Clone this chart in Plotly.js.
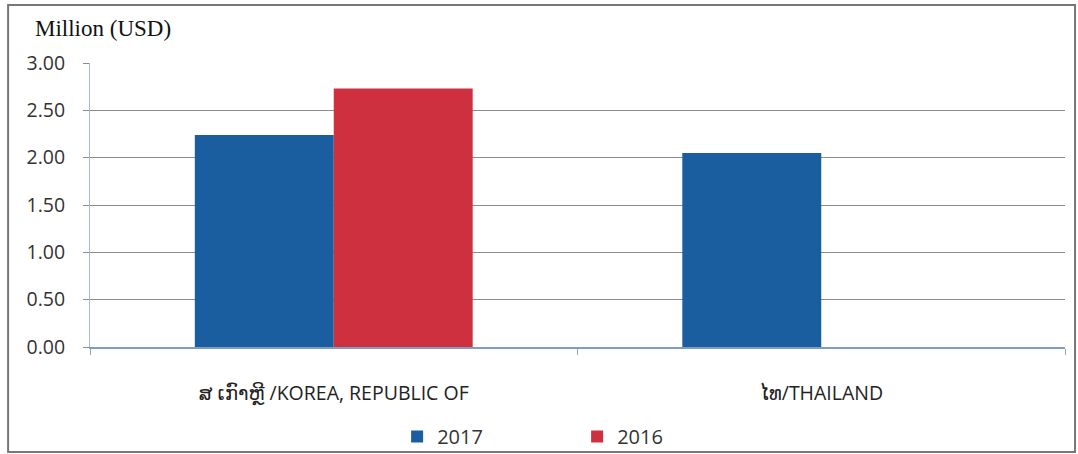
<!DOCTYPE html>
<html><head><meta charset="utf-8">
<script src="https://cdn.plot.ly/plotly-3.0.1.min.js"></script>
<style>html,body{margin:0;padding:0;background:#fff}#c{width:1078px;height:454px}</style>
</head><body><div id="c"></div>
<script>
const categories = ["ສ ເກົາຫຼີ /KOREA, REPUBLIC OF", "ໄທ/THAILAND"];
const values2017 = [2.24, 2.05];
const values2016 = [2.73, null];
const seriesNames = ["2017", "2016"];
const yTicks = [0, 0.5, 1, 1.5, 2, 2.5, 3];

const font = "'Open Sans', 'DejaVu Sans', sans-serif";
const data = [
  {type:'bar', name:seriesNames[0], x:categories, y:values2017, marker:{color:'#1a5e9f'}},
  {type:'bar', name:seriesNames[1], x:categories, y:values2016, marker:{color:'#cf3040'}}
];
const layout = {
  width:1078, height:454,
  margin:{l:90, r:13, t:63, b:107, autoexpand:false},
  paper_bgcolor:'#fff', plot_bgcolor:'#fff',
  barmode:'group', bargap:0.43, bargroupgap:0,
  font:{family:font, size:17, color:'#333'},
  xaxis:{
    type:'category', showline:true, linecolor:'#7f9cc4', linewidth:2,
    ticks:'outside', tickson:'boundaries', ticklen:6, tickcolor:'#9aa6b8',
    ticklabelstandoff:28, automargin:false,
    tickfont:{family:font, size:19.5, color:'#222'}, showgrid:false
  },
  yaxis:{
    range:[0,3], tickvals:yTicks, tickformat:'.2f',
    showgrid:true, gridcolor:'#8c8c8c', gridwidth:1,
    showline:true, linecolor:'#a9b8d2', linewidth:1,
    ticks:'outside', ticklen:6, tickcolor:'#8c8c8c',
    ticklabelstandoff:14, automargin:false,
    tickfont:{family:font, size:19.5, color:'#333'}, zeroline:false
  },
  showlegend:true,
  legend:{orientation:'h', x:0.315, xanchor:'left', y:-0.315, yanchor:'middle',
    entrywidth:135, entrywidthmode:'pixels', bgcolor:'rgba(0,0,0,0)',
    font:{family:font, size:20, color:'#333'}, itemwidth:30, tracegroupgap:0},
  annotations:[{text:'Million (USD)', xref:'paper', yref:'paper', x:-0.058, y:1.12,
    xanchor:'left', yanchor:'middle', showarrow:false,
    font:{family:"'Liberation Serif', 'Times New Roman', serif", size:23, color:'#111'}}],
  shapes:[{type:'rect', xref:'paper', yref:'paper', x0:-0.084, x1:1.0103, y0:-0.37, y1:1.204,
    line:{color:'#777', width:2}, fillcolor:'rgba(0,0,0,0)'}]
};
Plotly.newPlot('c', data, layout, {displayModeBar:false, staticPlot:true});
</script></body></html>
